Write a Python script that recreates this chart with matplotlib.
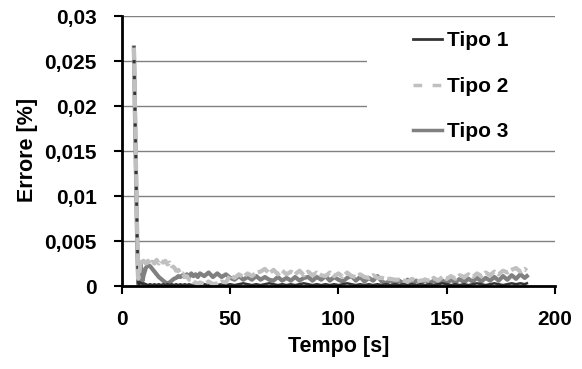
import numpy as np
import matplotlib
matplotlib.use("Agg")
import matplotlib.pyplot as plt
from matplotlib.patches import Rectangle
from matplotlib.lines import Line2D

plt.rcParams['font.family'] = ['Liberation Sans', 'DejaVu Sans']
plt.rcParams['font.weight'] = 'bold'

# time samples [s]
tempo = [5.5, 6, 6.5, 7, 7.5, 8, 8.5, 9, 9.5, 10,
         11, 12, 13, 14, 15, 16, 17, 18, 19, 20, 21, 22, 23, 24, 25,
         26, 27, 28, 29, 30, 31, 32, 33, 34, 35,
         36, 38, 40, 42, 44, 46, 48, 50, 52, 54, 56, 58, 60, 62, 64, 66,
         68, 70, 72, 74, 76, 78, 80, 82, 84, 86, 88, 90, 92, 94, 96, 98,
         100, 102, 104, 106, 108, 110, 112, 114, 116, 118, 120, 122, 124,
         126, 128, 130, 132, 134, 136, 138, 140, 142, 144, 146, 148, 150,
         152, 154, 156, 158, 160, 162, 164, 166, 168, 170, 172, 174, 176,
         178, 180, 182, 184, 186, 187]

tipo1 = [0.0265, 0.020, 0.013, 0.006, 0.0003, 0.0002, 0.0004, 0.0003, 0.0002, 0.0003,
         0.0002, 0.0001, 0.0002, 0.0001, 0.0002, 0.0001, 0.0002, 0.0001, 0.0002, 0.0001,
         0.0002, 0.0001, 0.0002, 0.0001, 0.0002, 0.0001, 0.0002, 0.0001, 0.0002, 0.0001,
         0.0002, 0.0001, 0.0002, 0.0001, 0.0002,
         0.0001, 0.0002, 0.0001, 0.0002, 0.0001, 0.0002, 0.0001, 0.0002, 0.0001, 0.0002,
         0.0003, 0.0002, 0.0001, 0.0002, 0.0001, 0.0002, 0.0003, 0.0002, 0.0001, 0.0002,
         0.0001, 0.0002, 0.0001, 0.0002, 0.0003, 0.0002, 0.0001, 0.0002, 0.0001, 0.0002,
         0.0001, 0.0002, 0.0001, 0.0002, 0.0003, 0.0002, 0.0001, 0.0002, 0.0001, 0.0002,
         0.0001, 0.0002, 0.0001, 0.0002, 0.0001, 0.0002, 0.0001, 0.0002, 0.0001, 0.0002,
         0.0001, 0.0002, 0.0001, 0.0002, 0.0001, 0.0002, 0.0003, 0.0002, 0.0001, 0.0002,
         0.0001, 0.0002, 0.0001, 0.0002, 0.0003, 0.0002, 0.0001, 0.0002, 0.0003, 0.0002,
         0.0001, 0.0002, 0.0003, 0.0002, 0.0003, 0.0002, 0.0003]

tipo2 = [0.0265, 0.020, 0.013, 0.006, 0.0008, 0.0015, 0.0024, 0.0027, 0.0024, 0.0028,
         0.0025, 0.0028, 0.0024, 0.0027, 0.0025, 0.0029, 0.0025, 0.0028, 0.0026, 0.0028,
         0.0024, 0.0026, 0.0022, 0.0021, 0.0017, 0.0018, 0.0014, 0.0014, 0.0010, 0.0011,
         0.0007, 0.0007, 0.0004, 0.0004, 0.0002,
         0.0004, 0.0002, 0.0005, 0.0002, 0.0003, 0.0005, 0.0004, 0.0012, 0.0009, 0.0013,
         0.0010, 0.0014, 0.0011, 0.0015, 0.0016, 0.0019, 0.0014, 0.0018, 0.0013, 0.0017,
         0.0013, 0.0016, 0.0013, 0.0017, 0.0012, 0.0016, 0.0012, 0.0015, 0.0012, 0.0011,
         0.0015, 0.0011, 0.0014, 0.0010, 0.0015, 0.0011, 0.0010, 0.0013, 0.0010, 0.0009,
         0.0012, 0.0009, 0.0009, 0.0008, 0.0008, 0.0007, 0.0007, 0.0006, 0.0005, 0.0008,
         0.0005, 0.0006, 0.0007, 0.0006, 0.0009, 0.0006, 0.0010, 0.0008, 0.0011, 0.0008,
         0.0012, 0.0010, 0.0013, 0.0010, 0.0014, 0.0011, 0.0015, 0.0012, 0.0016, 0.0013,
         0.0017, 0.0015, 0.0018, 0.0020, 0.0016, 0.0019, 0.0017]

tipo3 = [0.0265, 0.019, 0.012, 0.005, 0.0002, 0.0015, 0.0025, 0.0018, 0.0006, 0.0012,
         0.0020, 0.0023, 0.0022, 0.0019, 0.0016, 0.0013, 0.0010, 0.0008, 0.0006, 0.0004,
         0.0003, 0.0004, 0.0006, 0.0008, 0.0009, 0.0011, 0.0010, 0.0012, 0.0010, 0.0013,
         0.0010, 0.0014, 0.0011, 0.0013, 0.0010,
         0.0014, 0.0011, 0.0015, 0.0010, 0.0014, 0.0010, 0.0013, 0.0009, 0.0007, 0.0011,
         0.0007, 0.0010, 0.0007, 0.0011, 0.0007, 0.0010, 0.0007, 0.0006, 0.0010, 0.0006,
         0.0009, 0.0006, 0.0010, 0.0006, 0.0009, 0.0010, 0.0006, 0.0010, 0.0007, 0.0011,
         0.0006, 0.0010, 0.0007, 0.0005, 0.0009, 0.0011, 0.0006, 0.0010, 0.0005, 0.0009,
         0.0006, 0.0011, 0.0005, 0.0003, 0.0007, 0.0002, 0.0006, 0.0003, 0.0007, 0.0002,
         0.0006, 0.0003, 0.0007, 0.0003, 0.0006, 0.0002, 0.0006, 0.0003, 0.0007, 0.0004,
         0.0008, 0.0004, 0.0008, 0.0005, 0.0009, 0.0005, 0.0009, 0.0006, 0.0010, 0.0006,
         0.0011, 0.0007, 0.0012, 0.0008, 0.0013, 0.0009, 0.0011]

serie_labels = ["Tipo 1", "Tipo 2", "Tipo 3"]
xticks = [0, 50, 100, 150, 200]
yticks = [0, 0.005, 0.01, 0.015, 0.02, 0.025, 0.03]
ytick_labels = ["0", "0,005", "0,01", "0,015", "0,02", "0,025", "0,03"]

fig = plt.figure(figsize=(5.82, 3.69), dpi=100)
ax = fig.add_axes([0.2096, 0.2249, 0.7440, 0.7317])

ax.set_axisbelow(True)
ax.yaxis.grid(True, color='#808080', linewidth=1.0)

# white legend area hiding the gridlines
ax.add_patch(Rectangle((0.566, 0.54), 0.45, 0.445, transform=ax.transAxes,
                       facecolor='white', edgecolor='none', zorder=1,
                       clip_on=False))

# medium gray underneath, light gray dashes on top
ax.plot(tempo, tipo3, color='#808080', linewidth=3, zorder=2)
ax.plot(tempo, tipo1, color='#333333', linewidth=1.8, zorder=2.1)
ax.plot(tempo, tipo2, color='#c0c0c0', linewidth=3, linestyle=(0, (3, 0.8)),
        zorder=2.2)

ax.set_xlim(0, 200)
ax.set_ylim(0, 0.03)
ax.set_xticks(xticks)
ax.set_xticklabels([str(x) for x in xticks])
ax.set_yticks(yticks)
ax.set_yticklabels(ytick_labels)
ax.tick_params(direction='out', length=6, width=1.5, labelsize=15)
ax.tick_params(axis='x', pad=11)
ax.tick_params(axis='y', pad=12)
for s in ['top', 'right']:
    ax.spines[s].set_visible(False)
for s in ['left', 'bottom']:
    ax.spines[s].set_linewidth(2)

ax.set_xlabel("Tempo [s]", fontsize=15.5, fontweight='bold')
ax.set_ylabel("Errore [%]", fontsize=15.5, fontweight='bold')
ax.xaxis.set_label_coords(0.5, -0.185)
ax.yaxis.set_label_coords(-0.194, 0.504)

handles = [Line2D([], [], color='#333333', linewidth=2),
           Line2D([], [], color='#c0c0c0', linewidth=2.5, linestyle=(0, (2.5, 3))),
           Line2D([], [], color='#808080', linewidth=2.5)]
ax.legend(handles, serie_labels, loc='upper left', bbox_to_anchor=(0.672, 0.944),
          frameon=False, fontsize=15, handlelength=1.4, handletextpad=0.25,
          labelspacing=1.28, borderaxespad=0, borderpad=0)

fig.savefig("out.png", dpi=100)
